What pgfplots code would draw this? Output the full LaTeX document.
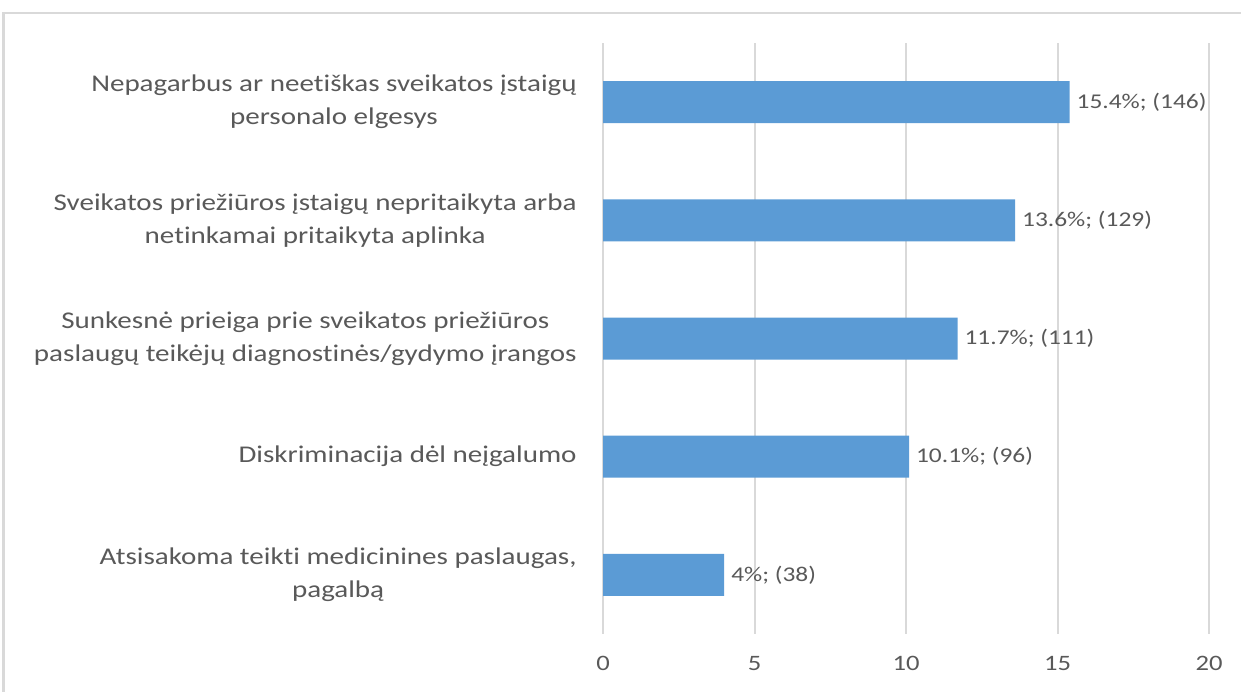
\documentclass[border=0pt]{standalone}
\usepackage{fontspec}
\setmainfont{Carlito}[Ligatures=NoCommon]
\newfontfamily\wide{Carlito}[FakeStretch=1.21, Ligatures=NoCommon]
\usepackage{pgfplots}
\usepackage{pgfplotstable}
\pgfplotsset{compat=1.18}
\definecolor{barblue}{HTML}{5B9BD5}
\definecolor{gridgray}{HTML}{D9D9D9}
\definecolor{txt}{HTML}{595959}
\protected\def\semi{;}
\pgfplotstableread[col sep=comma]{
y,x,label
0,15.4,15.4\%\semi{} (146)
1,13.6,13.6\%\semi{} (129)
2,11.7,11.7\%\semi{} (111)
3,10.1,10.1\%\semi{} (96)
4,4,4\%\semi{} (38)
}\datatable
\begin{document}
\begin{tikzpicture}
\begin{axis}[
  at={(301.5pt,28.5pt)}, anchor=south west,
  scale only axis, width=303pt, height=295.5pt,
  xbar, bar width=21pt,
  xmin=0, xmax=20, ymin=-0.5, ymax=4.5,
  y dir=reverse,
  xtick={0,5,10,15,20},
  ytick={0,1,2,3,4},
  yticklabels={{Nepagarbus ar neetiškas sveikatos įstaigų\\personalo elgesys},
    {Sveikatos priežiūros įstaigų nepritaikyta arba\\netinkamai pritaikyta aplinka},
    {Sunkesnė prieiga prie sveikatos priežiūros\\paslaugų teikėjų diagnostinės/gydymo įrangos},
    {Diskriminacija dėl neįgalumo},
    {Atsisakoma teikti medicinines paslaugas,\\pagalbą}},
  yticklabel style={align=center, font=\wide\fontsize{12}{16.5}\selectfont, text=txt, inner sep=0pt, xshift=-13pt},
  xticklabel style={font=\wide\fontsize{11}{13}\selectfont, text=txt, inner sep=0pt, yshift=-11pt},
  /pgf/number format/assume math mode=true,
  axis line style={draw=none},
  major tick length=0pt,
  xmajorgrids, grid style={gridgray, line width=1pt},
  nodes near coords,
  point meta=explicit symbolic,
  every node near coord/.append style={font=\wide\fontsize{10.5}{13}\selectfont, text=txt, anchor=west, xshift=0pt},
]
\addplot[fill=barblue, draw=none] table[x=x, y=y, meta=label] {\datatable};
\end{axis}
\draw[gridgray, line width=1.2pt] (1.75pt,-10pt) -- (1.75pt,339pt) -- (640pt,339pt);
\pgfresetboundingbox
\path[use as bounding box] (0,0) rectangle (620.5pt,345.5pt);
\end{tikzpicture}
\end{document}
